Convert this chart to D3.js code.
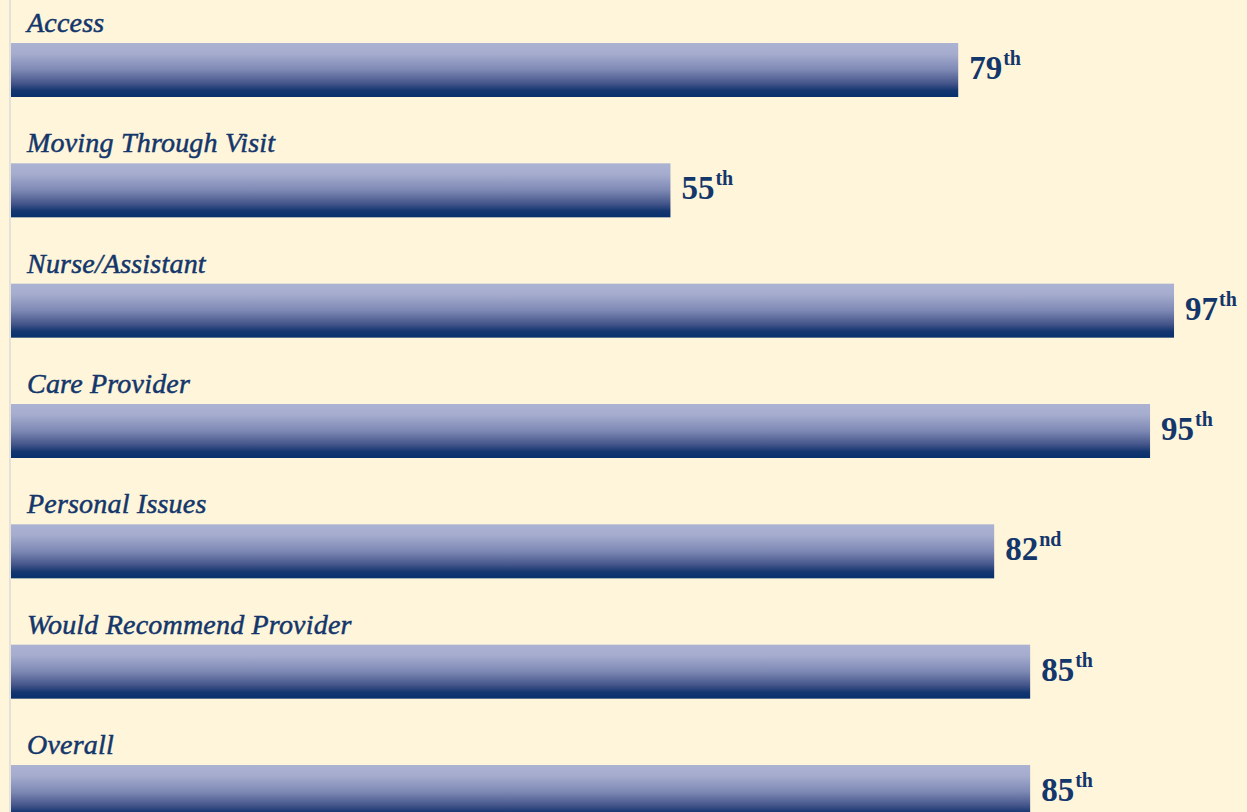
<!DOCTYPE html>
<html>
<head>
<meta charset="utf-8">
<script src="https://cdn.jsdelivr.net/npm/d3@7"></script>
<style>
  html, body { margin: 0; padding: 0; background: #fff5da; overflow: hidden; }
  svg { display: block; }
</style>
</head>
<body>
<svg id="chart"></svg>
<script>
// percentile ranks per survey section
const CATEGORIES = [
    'Access',
    'Moving Through Visit',
    'Nurse/Assistant',
    'Care Provider',
    'Personal Issues',
    'Would Recommend Provider',
    'Overall',
];
const VALUES   = [79, 55, 97, 95, 82, 85, 85];
const SUFFIXES = ['th', 'th', 'th', 'th', 'nd', 'th', 'th'];

const W = 1247, H = 812;
const NAVY = '#13366b';
const BAR_H = 54;
const SERIF = '"Liberation Serif", "Times New Roman", serif';

const svg = d3.select('#chart').attr('width', W).attr('height', H);

// ── Gradient ───────────────────────────────────────────────────────────────
const grad = svg.append('defs').append('linearGradient')
    .attr('id', 'bar-grad').attr('x1', 0).attr('y1', 0).attr('x2', 0).attr('y2', 1);
[
    [0.00, '#abb2d2'],
    [0.20, '#a5acce'],
    [0.50, '#7d88b4'],
    [0.75, '#44558a'],
    [0.88, '#143670'],
    [1.00, '#07306c'],
].forEach(([o, c]) => grad.append('stop').attr('offset', o).attr('stop-color', c));

// ── Scales ─────────────────────────────────────────────────────────────────
const x = d3.scaleLinear().domain([0, 100]).range([11, 1210]);
const y = d3.scalePoint().domain(CATEGORIES).range([43, 765]);

const rows = CATEGORIES.map((c, i) => ({ cat: c, v: VALUES[i], suf: SUFFIXES[i] }));

// thin left axis line
svg.append('line')
    .attr('x1', 10).attr('x2', 10).attr('y1', 0).attr('y2', H)
    .attr('stroke', '#e4e1d8').attr('stroke-width', 2);

const g = svg.append('g');

g.selectAll('.bar').data(rows).join('rect')
    .attr('class', 'bar')
    .attr('x', x(0))
    .attr('y', d => y(d.cat))
    .attr('width', d => x(d.v) - x(0))
    .attr('height', BAR_H)
    .attr('fill', 'url(#bar-grad)');

// category labels
g.selectAll('.cat').data(rows).join('text')
    .attr('class', 'cat')
    .attr('x', 27)
    .attr('y', d => y(d.cat) - 11)
    .attr('fill', NAVY)
    .attr('stroke', NAVY).attr('stroke-width', 0.5)
    .attr('font-family', SERIF)
    .attr('font-style', 'italic')
    .attr('font-size', '28px')
    .attr('letter-spacing', '0.2px')
    .text(d => d.cat);

// value labels with ordinal superscript
const val = g.selectAll('.val').data(rows).join('text')
    .attr('class', 'val')
    .attr('x', d => x(d.v) + 11)
    .attr('y', d => y(d.cat) + 36)
    .attr('fill', NAVY)
    .attr('font-family', SERIF)
    .attr('font-weight', 'bold')
    .attr('font-size', '33px');
val.append('tspan').text(d => d.v);
val.append('tspan')
    .attr('dx', 1)
    .attr('dy', -14)
    .attr('font-size', '20px')
    .text(d => d.suf);
</script>
</body>
</html>
